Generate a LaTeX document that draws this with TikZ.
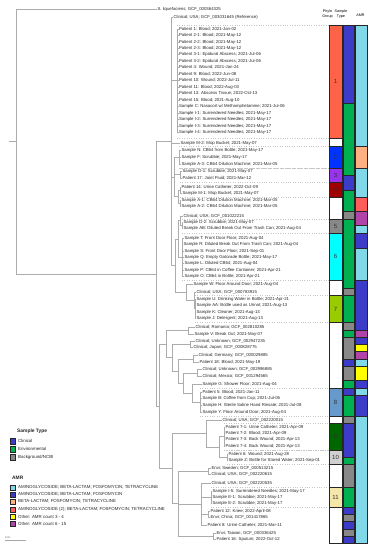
\documentclass[tikz,border=0pt]{standalone}
\usepackage{fontspec}
\setmainfont{Liberation Sans}
\definecolor{gA}{HTML}{FF6347}\definecolor{gB}{HTML}{0033FF}\definecolor{gC}{HTML}{9933EE}
\definecolor{gD}{HTML}{A00000}\definecolor{gE}{HTML}{888888}\definecolor{gF}{HTML}{00FFFF}
\definecolor{gG}{HTML}{99CC00}\definecolor{gH}{HTML}{6699CC}\definecolor{gI}{HTML}{006600}
\definecolor{gJ}{HTML}{D0D0D0}\definecolor{gK}{HTML}{F5E6AA}
\definecolor{stC}{HTML}{3C3CC8}\definecolor{stE}{HTML}{00B050}\definecolor{stB}{HTML}{888888}
\definecolor{aLB}{HTML}{80D8E8}\definecolor{aBL}{HTML}{3C3CC8}\definecolor{aPE}{HTML}{FFB080}
\definecolor{aRD}{HTML}{FF5C5C}\definecolor{aYE}{HTML}{FFFF00}\definecolor{aMG}{HTML}{B044A8}
\newcommand{\sseg}[3]{\draw[segb,fill=#3] (343,#1) rectangle (354.5,#2);}
\newcommand{\aseg}[3]{\draw[segb,fill=#3] (355.5,#1) rectangle (367,#2);}
\newcommand{\gseg}[5]{\draw[segb,fill=#3] (329,#1) rectangle (342,#2);
  \node[gnum] (#5) at (335.5,{(#1+#2)/2}) {#4};}
\newcommand{\gbx}[4]{\draw[gbox] (#1,#2) -- (329,#2); \draw[gbox] (#1,#3) -- (329,#3);}
\begin{document}
\begin{tikzpicture}[x=1pt,y=-1pt,
  tree/.style={draw=gray!65,line width=0.6pt},
  lab/.style={anchor=west,inner sep=0.3pt,font=\fontsize{4.3}{5}\selectfont,text=black!85},
  segb/.style={draw=black!85,line width=0.5pt},
  gnum/.style={font=\fontsize{6}{6}\selectfont,text=black!80,inner sep=0pt},
  gbox/.style={draw=gray!45,dotted,line width=0.4pt},
  hdr/.style={align=center,font=\fontsize{3.7}{4.3}\selectfont,text=black,inner sep=0pt},
  leg/.style={anchor=west,inner sep=0pt,font=\fontsize{4.4}{5}\selectfont,text=black!85},
  legt/.style={anchor=west,inner sep=0pt,font=\fontsize{4.9}{5}\selectfont\bfseries,text=black!85},
  sq/.style={draw=black!85,line width=0.5pt}]
\useasboundingbox (0,0) rectangle (374,550);
\fill[white] (0,0) rectangle (374,550);
% ---------- group boxes (dotted)
\gbx{177}{25.5}{137.75}{}
\gbx{179}{146.5}{167.75}{}
\gbx{180}{167.75}{182.5}{}
\gbx{180}{182.5}{196.75}{}
\gbx{182}{219}{233.25}{}
\gbx{182}{233.25}{280.25}{}
\gbx{195}{295.5}{322.5}{}
\gbx{200}{388}{416}{}
\gbx{224}{423.5}{450}{}
\gbx{227}{450}{464.25}{}
\gbx{211}{487}{507}{}
% ---------- leaf labels
\node[lab] (sliq) at (157,9) {S. liquefaciens; GCF\_000364325};
\node[lab] (ref) at (173,17) {Clinical; USA; GCF\_003031645 (Reference)};
\node[lab] (p1) at (178.5,29) {Patient 1: Blood; 2021-Jan-02};
\node[lab] (p21) at (178.5,35.5) {Patient 2-1: Blood; 2021-May-12};
\node[lab] (p22) at (178.5,42) {Patient 2-2: Blood; 2021-May-12};
\node[lab] (p23) at (178.5,48) {Patient 2-3: Blood; 2021-May-12};
\node[lab] (p31) at (178.5,54.5) {Patient 3-1: Epidural Abscess; 2021-Jul-06};
\node[lab] (p32) at (178.5,61) {Patient 3-2: Epidural Abscess; 2021-Jul-06};
\node[lab] (p4) at (178.5,67.5) {Patient 4: Wound; 2021-Jan-24};
\node[lab] (p9) at (178.5,74) {Patient 9: Blood; 2022-Jun-08};
\node[lab] (p10) at (178.5,80.5) {Patient 10: Wound; 2022-Jul-11};
\node[lab] (p11) at (178.5,87) {Patient 11: Blood; 2022-Aug-03};
\node[lab] (p13) at (178.5,93.5) {Patient 13: Abscess Tissue; 2022-Oct-13};
\node[lab] (p15) at (178.5,100) {Patient 15: Blood; 2021-Aug-10};
\node[lab] (sc) at (178.5,106.5) {Sample C: Nasacort w/ Methamphetamine; 2021-Jul-06};
\node[lab] (si1) at (178.5,113) {Sample I-1: Surrendered Needles; 2021-May-17};
\node[lab] (si2) at (178.5,119.5) {Sample I-2: Surrendered Needles; 2021-May-17};
\node[lab] (si3) at (178.5,126) {Sample I-3: Surrendered Needles; 2021-May-17};
\node[lab] (si4) at (178.5,132.5) {Sample I-4: Surrendered Needles; 2021-May-17};
\node[lab] (sm2) at (180,143) {Sample M-2: Mop Bucket; 2021-May-07};
\node[lab] (sn) at (181,150) {Sample N: CB64 from Bottle; 2021-May-17};
\node[lab] (sf) at (181,157) {Sample F: Scrubbie; 2021-May-17};
\node[lab] (sa3) at (181,164) {Sample A-3: CB64 Dilution Machine; 2021-Mar-05};
\node[lab] (sd1) at (182,171.5) {Sample D-1: Scrubbie; 2021-May-07};
\node[lab] (p17) at (182,178) {Patient 17: Joint Fluid; 2021-Mar-12};
\node[lab] (p14) at (181,187) {Patient 14: Urine Catheter; 2022-Oct-09};
\node[lab] (sm1) at (182,193.5) {Sample M-1: Mop Bucket; 2021-May-07};
\node[lab] (sa1) at (181,200) {Sample A-1: CB64 Dilution Machine; 2021-Mar-05};
\node[lab] (sa2) at (181,206.5) {Sample A-2: CB64 Dilution Machine; 2021-Mar-05};
\node[lab] (c1022) at (183,216) {Clinical; USA; GCF\_001022215};
\node[lab] (sd2) at (183,222) {Sample D-2: Scrubbie; 2021-May-07};
\node[lab] (sab) at (183,228) {Sample AB: Diluted Break Out From Trash Can; 2021-Aug-04};
\node[lab] (st) at (184,238.5) {Sample T: Front Door Floor; 2021-Aug-04};
\node[lab] (sr) at (183,244.5) {Sample R: Diluted Break Out From Trash Can; 2021-Aug-04};
\node[lab] (ss) at (184,251) {Sample S: Front Door Floor; 2021-Sep-01};
\node[lab] (sq) at (184,257) {Sample Q: Empty Gatorade Bottle; 2021-May-17};
\node[lab] (sl) at (184,263.5) {Sample L: Diluted CB64; 2021-Aug-04};
\node[lab] (sp) at (184,270) {Sample P: CB64 in Coffee Container; 2021-Apr-21};
\node[lab] (so) at (184,276) {Sample O: CB64 in Bottle; 2021-Apr-21};
\node[lab] (sw) at (193,284.5) {Sample W: Floor Around Door; 2021-Aug-04};
\node[lab] (c7839) at (196,292) {Clinical; USA; GCF\_000783915};
\node[lab] (su) at (196,299) {Sample U: Drinking Water in Bottle; 2021-Apr-21};
\node[lab] (saa) at (196,305.5) {Sample AA: Bottle used as Urinal; 2021-Aug-13};
\node[lab] (sk) at (196,312) {Sample K: Cleaner; 2021-Aug-13};
\node[lab] (sj) at (196,318) {Sample J: Detergent; 2021-Aug-13};
\node[lab] (crom) at (195,327) {Clinical; Romania; GCF\_002810285};
\node[lab] (sv) at (194,334) {Sample V: Break Out; 2021-May-07};
\node[lab] (cunk1) at (195,341) {Clinical; Unknown; GCF\_002947235};
\node[lab] (cjap) at (193,347.5) {Clinical; Japan; GCF\_000828775};
\node[lab] (cger) at (198,355.5) {Clinical; Germany; GCF\_000029885};
\node[lab] (p18) at (199,362.5) {Patient 18: Blood; 2021-May-19};
\node[lab] (cunk2) at (202,369.5) {Clinical; Unknown; GCF\_002996885};
\node[lab] (cmex) at (202,376.5) {Clinical; Mexico; GCF\_001294565};
\node[lab] (sg) at (202,384) {Sample G: Shower Floor; 2021-Aug-04};
\node[lab] (p5) at (202,392) {Patient 5: Blood; 2021-Jan-11};
\node[lab] (sb) at (202,398.5) {Sample B: Coffee from Cup; 2021-Jul-06};
\node[lab] (sh) at (202,405.5) {Sample H: Sterile Saline Hand Rinsate; 2021-Jul-08};
\node[lab] (sy) at (202,412) {Sample Y: Floor Around Door; 2021-Aug-04};
\node[lab] (c2015) at (222,420) {Clinical; USA; GCF\_002220015};
\node[lab] (p71) at (225,427) {Patient 7-1: Urine Catheter; 2021-Apr-09};
\node[lab] (p72) at (225,433) {Patient 7-2: Blood; 2021-Apr-09};
\node[lab] (p73) at (225,439.5) {Patient 7-3: Back Wound; 2021-Apr-13};
\node[lab] (p74) at (225,446) {Patient 7-4: Back Wound; 2021-Apr-13};
\node[lab] (p6) at (228,454) {Patient 6: Wound; 2021-Aug-28};
\node[lab] (sz) at (228,460.5) {Sample Z: Bottle for Stored Water; 2021-Sep-01};
\node[lab] (eswe) at (211,468) {Envi; Sweden; GCF\_000513215};
\node[lab] (c2615) at (211,474) {Clinical; USA; GCF\_002220615};
\node[lab] (c2535) at (211,483) {Clinical; USA; GCF\_002220535};
\node[lab] (si5) at (212,491) {Sample I-5: Surrendered Needles; 2021-May-17};
\node[lab] (se1) at (212,497) {Sample E-1: Scrubbie; 2021-May-17};
\node[lab] (se2) at (212,503) {Sample E-2: Scrubbie; 2021-May-17};
\node[lab] (p12) at (210,511) {Patient 12: Knee; 2022-April-08};
\node[lab] (echn) at (210,517.5) {Envi; China; GCF\_001417865};
\node[lab] (p8) at (207,525) {Patient 8: Urine Catheter; 2021-Mar-11};
\node[lab] (etwn) at (216,533) {Envi; Taiwan; GCF\_000336425};
\node[lab] (p16) at (216,539) {Patient 16: Sputum; 2022-Oct-12};
% ---------- internal nodes
\coordinate (R) at (16,141.4);
\coordinate (A) at (156,273.8);
\coordinate (N1) at (171,141.3);
\coordinate (G1) at (177,80.75);
\coordinate (N3) at (174,176.9);
\coordinate (G2) at (179,157);
\coordinate (G3) at (180,174.75);
\coordinate (G4b) at (178,196.75);
\coordinate (G4) at (180,190.25);
\coordinate (GA) at (180,203.25);
\coordinate (N4) at (175,265.6);
\coordinate (N5) at (178,238.9);
\coordinate (G5b) at (180,220.5);
\coordinate (G5) at (182,225);
\coordinate (G6) at (182,257.25);
\coordinate (N6) at (186,292.4);
\coordinate (N7) at (194,300.25);
\coordinate (G7) at (195,308.5);
\coordinate (N2) at (159,406.2);
\coordinate (L1) at (166,344);
\coordinate (L2) at (172,357.6);
\coordinate (L3) at (178,371);
\coordinate (L4) at (183,383);
\coordinate (L5) at (192,393);
\coordinate (N9) at (188,330.5);
\coordinate (N10) at (190,344.25);
\coordinate (N11) at (193,359);
\coordinate (N12) at (197,373);
\coordinate (G8) at (200,402);
\coordinate (N13) at (172,468.5);
\coordinate (N14) at (206,433.4);
\coordinate (N14b) at (219,446.9);
\coordinate (G9) at (224,436.5);
\coordinate (G10) at (227,457.25);
\coordinate (N15) at (178,503.5);
\coordinate (N16) at (208,471);
\coordinate (N17) at (201,504);
\coordinate (G11) at (211,497);
\coordinate (N18) at (208,514.25);
\coordinate (N19) at (213,536);
\coordinate (Rs) at (9,141.4);
% ---------- tree edges
\draw[tree] (Rs) -- (R);
\draw[tree] (R) |- (sliq.west);
\draw[tree] (R) |- (A);
\draw[tree] (A) |- (N1); \draw[tree] (A) |- (N2);
\draw[tree] (N1) |- (ref.west); \draw[tree] (N1) |- (G1); \draw[tree] (N1) |- (sm2.west);
\draw[tree] (N1) |- (N3); \draw[tree] (N1) |- (N4);
\foreach \c in {p1,p21,p22,p23,p31,p32,p4,p9,p10,p11,p13,p15,sc,si1,si2,si3,si4}
  \draw[tree] (G1) |- (\c.west);
\draw[tree] (N3) |- (G2); \draw[tree] (N3) |- (G3); \draw[tree] (N3) |- (G4b);
\foreach \c in {sn,sf,sa3} \draw[tree] (G2) |- (\c.west);
\foreach \c in {sd1,p17} \draw[tree] (G3) |- (\c.west);
\draw[tree] (G4b) |- (G4); \draw[tree] (G4b) |- (GA);
\foreach \c in {p14,sm1} \draw[tree] (G4) |- (\c.west);
\foreach \c in {sa1,sa2} \draw[tree] (GA) |- (\c.west);
\draw[tree] (N4) |- (N5); \draw[tree] (N4) |- (N6);
\draw[tree] (N5) |- (G5b); \draw[tree] (N5) |- (G6);
\draw[tree] (G5b) |- (c1022.west); \draw[tree] (G5b) |- (G5);
\foreach \c in {sd2,sab} \draw[tree] (G5) |- (\c.west);
\foreach \c in {st,sr,ss,sq,sl,sp,so} \draw[tree] (G6) |- (\c.west);
\draw[tree] (N6) |- (sw.west); \draw[tree] (N6) |- (N7);
\draw[tree] (N7) |- (c7839.west); \draw[tree] (N7) |- (G7);
\foreach \c in {su,saa,sk,sj} \draw[tree] (G7) |- (\c.west);
\draw[tree] (N2) |- (L1); \draw[tree] (N2) |- (N13);
\draw[tree] (L1) |- (N9); \draw[tree] (L1) |- (L2);
\draw[tree] (L2) |- (N10); \draw[tree] (L2) |- (L3);
\draw[tree] (L3) |- (N11); \draw[tree] (L3) |- (L4);
\draw[tree] (L4) |- (N12); \draw[tree] (L4) |- (L5);
\draw[tree] (L5) |- (sg.west); \draw[tree] (L5) |- (G8);
\foreach \c in {crom,sv} \draw[tree] (N9) |- (\c.west);
\foreach \c in {cunk1,cjap} \draw[tree] (N10) |- (\c.west);
\foreach \c in {cger,p18} \draw[tree] (N11) |- (\c.west);
\foreach \c in {cunk2,cmex} \draw[tree] (N12) |- (\c.west);
\foreach \c in {p5,sb,sh,sy} \draw[tree] (G8) |- (\c.west);
\draw[tree] (N13) |- (N14); \draw[tree] (N13) |- (N15);
\draw[tree] (N14) |- (c2015.west); \draw[tree] (N14) |- (N14b);
\draw[tree] (N14b) |- (G9); \draw[tree] (N14b) |- (G10);
\foreach \c in {p71,p72,p73,p74} \draw[tree] (G9) |- (\c.west);
\foreach \c in {p6,sz} \draw[tree] (G10) |- (\c.west);
\draw[tree] (N15) |- (N16); \draw[tree] (N15) |- (N17); \draw[tree] (N15) |- (N19);
\foreach \c in {eswe,c2615} \draw[tree] (N16) |- (\c.west);
\draw[tree] (N17) |- (c2535.west); \draw[tree] (N17) |- (G11);
\draw[tree] (N17) |- (N18); \draw[tree] (N17) |- (p8.west);
\foreach \c in {si5,se1,se2} \draw[tree] (G11) |- (\c.west);
\foreach \c in {p12,echn} \draw[tree] (N18) |- (\c.west);
\foreach \c in {etwn,p16} \draw[tree] (N19) |- (\c.west);
% ---------- headers
\node[hdr] (hpg) at (327.5,14) {Phylo\\Group};
\node[hdr] (hst) at (341,14) {Sample\\Type};
\node[hdr] (hamr) at (360.5,15) {AMR};
% ---------- phylo group column
\draw[segb,fill=white] (329,25.5) rectangle (342,543);
\gseg{25.5}{137.75}{gA}{1}{n1}
\gseg{146.5}{167.75}{gB}{2}{n2}
\gseg{167.75}{182.5}{gC}{3}{n3}
\gseg{182.5}{196.75}{gD}{4}{n4}
\gseg{219}{233.25}{gE}{5}{n5}
\gseg{233.25}{280.25}{gF}{6}{n6}
\gseg{295.5}{322.5}{gG}{7}{n7}
\gseg{388}{416}{gH}{8}{n8}
\gseg{423.5}{450}{gI}{9}{n9}
\gseg{450}{464.25}{gJ}{10}{n10}
\gseg{487}{507}{gK}{11}{n11}
% ---------- sample type column
\sseg{25.5}{103.25}{stC}
\sseg{103.25}{174.75}{stE}
\sseg{174.75}{190.25}{stC}
\sseg{190.25}{211.25}{stE}
\sseg{211.25}{219}{stB}
\sseg{219}{288.25}{stE}
\sseg{288.25}{295.5}{stB}
\sseg{295.5}{322.5}{stE}
\sseg{322.5}{330.5}{stB}
\sseg{330.5}{337.5}{stE}
\sseg{337.5}{359}{stB}
\sseg{359}{366}{stC}
\sseg{366}{380.25}{stB}
\sseg{380.25}{388}{stE}
\sseg{388}{395.25}{stC}
\sseg{395.25}{416}{stE}
\sseg{416}{423.5}{stB}
\sseg{423.5}{457.25}{stC}
\sseg{457.25}{464.25}{stE}
\sseg{464.25}{487}{stB}
\sseg{487}{507}{stE}
\sseg{507}{514.25}{stC}
\sseg{514.25}{521.25}{stB}
\sseg{521.25}{529}{stC}
\sseg{529}{536}{stB}
\sseg{536}{543}{stC}
% ---------- AMR column
\aseg{25.5}{146.5}{aLB}
\aseg{146.5}{167.75}{aPE}
\aseg{167.75}{196.75}{aLB}
\aseg{196.75}{211.25}{aRD}
\aseg{211.25}{225}{aMG}
\aseg{225}{233.25}{aLB}
\aseg{233.25}{247.75}{aBL}
\aseg{247.75}{280.25}{aLB}
\aseg{280.25}{330.5}{aBL}
\aseg{330.5}{337.5}{aMG}
\aseg{337.5}{344.25}{aBL}
\aseg{344.25}{351.5}{aYE}
\aseg{351.5}{359}{aMG}
\aseg{359}{366}{aLB}
\aseg{366}{380.25}{aYE}
\aseg{380.25}{388}{aBL}
\aseg{388}{395.25}{aLB}
\aseg{395.25}{416}{aBL}
\aseg{416}{543}{aLB}
% ---------- legend
\node[legt] (lst) at (17,431) {Sample Type};
\draw[sq,fill=stC] (10,438.5) rectangle (15.5,444);
\node[leg] (lc) at (18,441.2) {Clinical};
\draw[sq,fill=stE] (10,446.5) rectangle (15.5,452);
\node[leg] (le) at (18,449.2) {Environmental};
\draw[sq,fill=stB] (10,454.5) rectangle (15.5,460);
\node[leg] (lb) at (18,457.2) {Background/NCBI};
\node[legt] (lamr) at (12,478) {AMR};
\draw[sq,fill=aLB] (10,485) rectangle (15.5,490.5);
\node[leg] (a1) at (18,487.7) {AMINOGLYCOSIDE; BETA-LACTAM; FOSFOMYCIN; TETRACYCLINE};
\draw[sq,fill=aBL] (10,492) rectangle (15.5,497.5);
\node[leg] (a2) at (18,494.7) {AMINOGLYCOSIDE; BETA-LACTAM; FOSFOMYCIN};
\draw[sq,fill=aPE] (10,499) rectangle (15.5,504.5);
\node[leg] (a3) at (18,501.7) {BETA-LACTAM; FOSFOMYCIN; TETRACYCLINE};
\draw[sq,fill=aRD] (10,507) rectangle (15.5,512.5);
\node[leg] (a4) at (18,509.7) {AMINOGLYCOSIDE (2); BETA-LACTAM; FOSFOMYCIN; TETRACYCLINE};
\draw[sq,fill=aYE] (10,514) rectangle (15.5,519.5);
\node[leg] (a5) at (18,516.7) {Other: AMR count 3 - 4};
\draw[sq,fill=aMG] (10,521) rectangle (15.5,526.5);
\node[leg] (a6) at (18,523.7) {Other: AMR count 6 - 15};
% ---------- scale bar
\coordinate (sb1) at (5,540); \coordinate (sb2) at (26,540);
\draw[gray!70,line width=0.6pt] (sb1) -- (sb2);
\node[anchor=south west,inner sep=0pt,font=\fontsize{2.5}{3}\selectfont,text=black!70] (sbl) at (5,539) {0.01};
\end{tikzpicture}
\end{document}
